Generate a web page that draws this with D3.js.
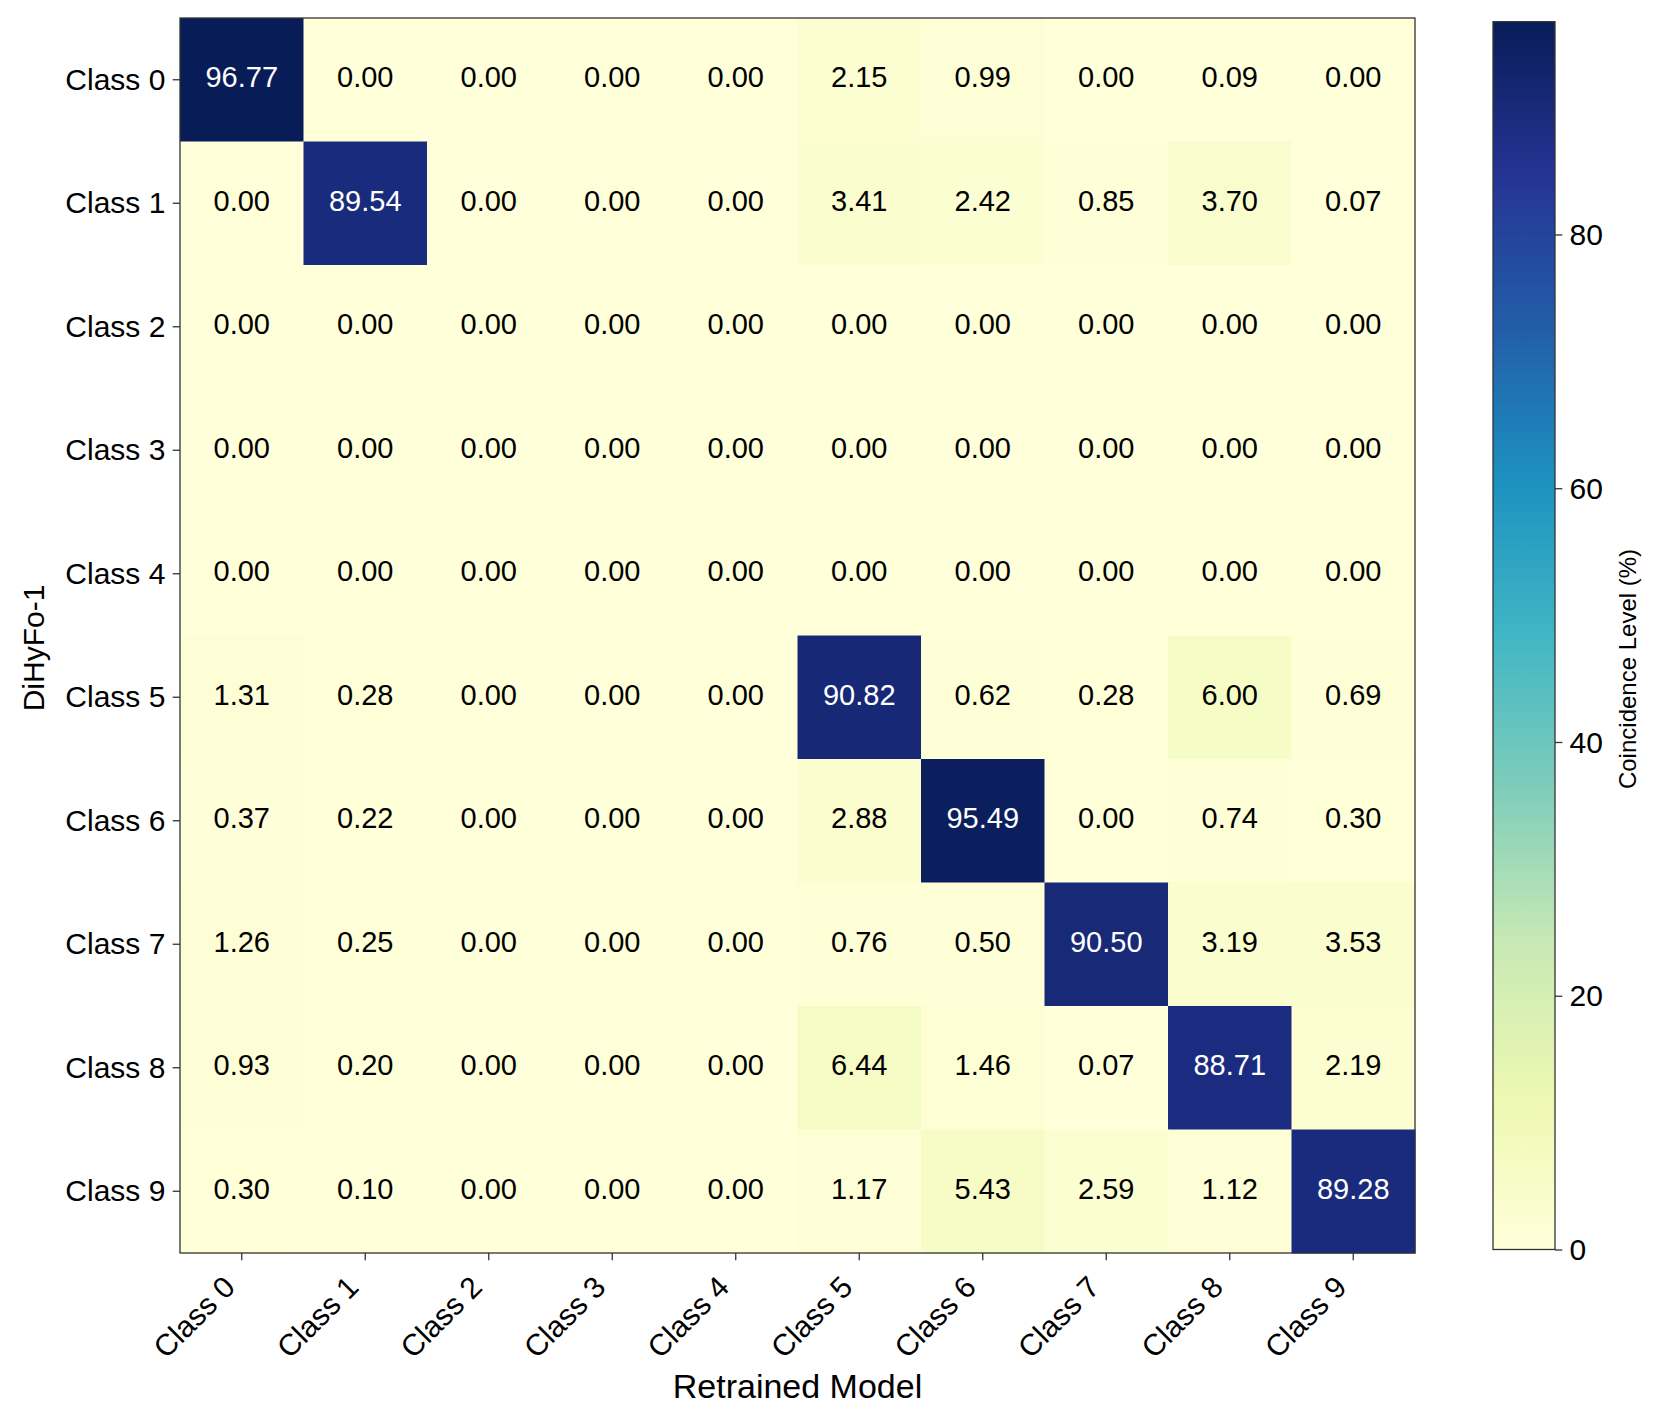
<!DOCTYPE html>
<html>
<head>
<meta charset="utf-8">
<script src="https://cdn.jsdelivr.net/npm/d3@7"></script>
<style>
  body { margin: 0; background: #fff; }
  text { font-family: "Liberation Sans", Arial, sans-serif; fill: #000; }
</style>
</head>
<body>
<div id="chart"></div>
<script>
// class labels (same for rows and columns)
var rowLabels = ["Class 0", "Class 1", "Class 2", "Class 3", "Class 4", "Class 5", "Class 6", "Class 7", "Class 8", "Class 9"];
var colLabels = ["Class 0", "Class 1", "Class 2", "Class 3", "Class 4", "Class 5", "Class 6", "Class 7", "Class 8", "Class 9"];

// coincidence matrix, one array per row (DiHyFo-1 class)
var row0 = [96.77, 0.00, 0.00, 0.00, 0.00, 2.15, 0.99, 0.00, 0.09, 0.00];
var row1 = [0.00, 89.54, 0.00, 0.00, 0.00, 3.41, 2.42, 0.85, 3.70, 0.07];
var row2 = [0.00, 0.00, 0.00, 0.00, 0.00, 0.00, 0.00, 0.00, 0.00, 0.00];
var row3 = [0.00, 0.00, 0.00, 0.00, 0.00, 0.00, 0.00, 0.00, 0.00, 0.00];
var row4 = [0.00, 0.00, 0.00, 0.00, 0.00, 0.00, 0.00, 0.00, 0.00, 0.00];
var row5 = [1.31, 0.28, 0.00, 0.00, 0.00, 90.82, 0.62, 0.28, 6.00, 0.69];
var row6 = [0.37, 0.22, 0.00, 0.00, 0.00, 2.88, 95.49, 0.00, 0.74, 0.30];
var row7 = [1.26, 0.25, 0.00, 0.00, 0.00, 0.76, 0.50, 90.50, 3.19, 3.53];
var row8 = [0.93, 0.20, 0.00, 0.00, 0.00, 6.44, 1.46, 0.07, 88.71, 2.19];
var row9 = [0.30, 0.10, 0.00, 0.00, 0.00, 1.17, 5.43, 2.59, 1.12, 89.28];
var matrix = [row0, row1, row2, row3, row4, row5, row6, row7, row8, row9];

// colorbar ticks
var cbarTicks = [0, 20, 40, 60, 80];

// YlGnBu (colorbrewer 9) stops, like matplotlib
var ylgnbu = ["#ffffd9", "#edf8b1", "#c7e9b4", "#7fcdbb", "#41b6c4", "#1d91c0", "#225ea8", "#253494", "#081d58"];

var svgWidth = 1661;
var svgHeight = 1424;

// heatmap area
var plot = { left: 180, right: 1415, top: 18, bottom: 1253 };
// colorbar area
var cbar = { left: 1493, right: 1555, top: 21.7, bottom: 1249.5 };

var tickLen = 7.3;
var tickPad = 7.3;

var svg = d3.select("#chart")
    .append("svg")
    .attr("width", svgWidth)
    .attr("height", svgHeight);

svg.append("rect")
    .attr("width", svgWidth)
    .attr("height", svgHeight)
    .attr("fill", "#fff");

//flatten for cells
var cells = [];
matrix.forEach(function(row, i) {
    row.forEach(function(v, j) {
        cells.push({ r: i, c: j, value: v });
    });
});

var vmax = d3.max(cells, d => d.value);

var xScale = d3.scaleBand()
    .domain(colLabels.map((d, i) => i))
    .range([plot.left, plot.right]);
var yScale = d3.scaleBand()
    .domain(rowLabels.map((d, i) => i))
    .range([plot.top, plot.bottom]);

var colorScale = d3.scaleLinear()
    .domain(ylgnbu.map((d, i) => vmax * i / (ylgnbu.length - 1)))
    .range(ylgnbu)
    .interpolate(d3.interpolateRgb)
    .clamp(true);

// cells
svg.append("g")
    .selectAll("rect")
    .data(cells)
    .enter()
    .append("rect")
    .attr("x", d => xScale(d.c))
    .attr("y", d => yScale(d.r))
    .attr("width", xScale.bandwidth() + 0.5)
    .attr("height", yScale.bandwidth() + 0.5)
    .attr("fill", d => colorScale(d.value));

// annotations
svg.append("g")
    .selectAll("text")
    .data(cells)
    .enter()
    .append("text")
    .attr("x", d => xScale(d.c) + xScale.bandwidth() / 2)
    .attr("y", d => yScale(d.r) + yScale.bandwidth() / 2)
    .attr("dy", "0.26em")
    .attr("text-anchor", "middle")
    .attr("font-size", "29px")
    .style("fill", d => d.value > vmax * 0.5 ? "#fff" : "#000")
    .text(d => d.value.toFixed(2));

// frame
svg.append("rect")
    .attr("x", plot.left)
    .attr("y", plot.top)
    .attr("width", plot.right - plot.left)
    .attr("height", plot.bottom - plot.top)
    .attr("fill", "none")
    .attr("stroke", "#333")
    .attr("stroke-width", 1.3);

// x axis
var xAxis = d3.axisBottom(xScale)
    .tickSize(tickLen)
    .tickFormat(i => colLabels[i]);
var xg = svg.append("g")
    .attr("transform", `translate(0, ${plot.bottom})`)
    .call(xAxis);
xg.select(".domain").remove();
xg.selectAll("line").attr("stroke", "#333").attr("stroke-width", 1.3);
xg.selectAll("text")
    .attr("x", null)
    .attr("y", null)
    .attr("dy", null)
    .attr("text-anchor", "end")
    .attr("transform", "translate(-5, 36) rotate(-45)")
    .attr("font-size", "30px")
    .attr("font-family", null);

// y axis
var yAxis = d3.axisLeft(yScale)
    .tickSize(tickLen)
    .tickPadding(tickPad)
    .tickFormat(i => rowLabels[i]);
var yg = svg.append("g")
    .attr("transform", `translate(${plot.left}, 0)`)
    .call(yAxis);
yg.select(".domain").remove();
yg.selectAll("line").attr("stroke", "#333").attr("stroke-width", 1.3);
yg.selectAll("text")
    .attr("dy", "0.34em")
    .attr("font-size", "30px")
    .attr("font-family", null);

// axis titles
svg.append("text")
    .attr("x", (plot.left + plot.right) / 2)
    .attr("y", 1398)
    .attr("text-anchor", "middle")
    .attr("font-size", "34px")
    .text("Retrained Model");

svg.append("text")
    .attr("transform", `translate(44, 648) rotate(-90)`)
    .attr("text-anchor", "middle")
    .attr("font-size", "30px")
    .text("DiHyFo-1");

// colorbar gradient
var defs = svg.append("defs");
var grad = defs.append("linearGradient")
    .attr("id", "cbarGrad")
    .attr("x1", 0).attr("y1", 1)
    .attr("x2", 0).attr("y2", 0);
grad.selectAll("stop")
    .data(ylgnbu)
    .enter()
    .append("stop")
    .attr("offset", (d, i) => i / (ylgnbu.length - 1))
    .attr("stop-color", d => d);

var cScale = d3.scaleLinear()
    .domain([0, vmax])
    .range([cbar.bottom, cbar.top]);

svg.append("rect")
    .attr("x", cbar.left)
    .attr("y", cScale(vmax))
    .attr("width", cbar.right - cbar.left)
    .attr("height", cScale(0) - cScale(vmax))
    .attr("fill", "url(#cbarGrad)")
    .attr("stroke", "#333")
    .attr("stroke-width", 1.3);

var cAxis = d3.axisRight(cScale)
    .tickValues(cbarTicks)
    .tickSize(tickLen)
    .tickPadding(tickPad)
    .tickFormat(d3.format("d"));
var cg = svg.append("g")
    .attr("transform", `translate(${cbar.right}, 0)`)
    .call(cAxis);
cg.select(".domain").remove();
cg.selectAll("line").attr("stroke", "#333").attr("stroke-width", 1.3);
cg.selectAll("text")
    .attr("dy", "0.34em")
    .attr("font-size", "30px")
    .attr("font-family", null);

svg.append("text")
    .attr("transform", `translate(1636, 669) rotate(-90)`)
    .attr("text-anchor", "middle")
    .attr("font-size", "24px")
    .text("Coincidence Level (%)");
</script>
</body>
</html>
